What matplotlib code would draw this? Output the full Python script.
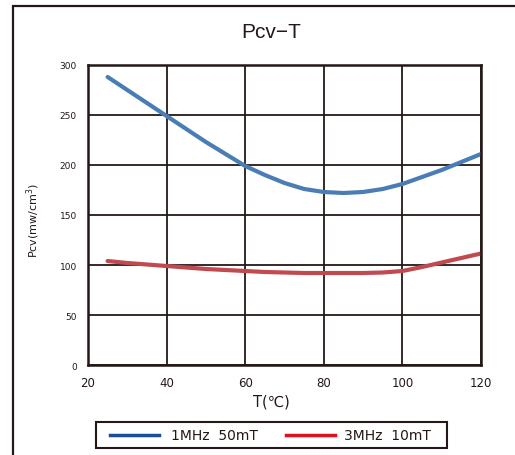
import matplotlib
matplotlib.use("Agg")
import matplotlib.pyplot as plt
from matplotlib.patches import Rectangle
from matplotlib.lines import Line2D

# values
temps = [25, 30, 35, 40, 45, 50, 55, 60, 65, 70, 75, 80, 85, 90, 95, 100, 105, 110, 115, 120]
pcv_1mhz = [288, 275, 262, 249, 236, 223, 211, 199, 190, 182, 176, 173, 172, 173, 176, 181, 188, 195, 203, 211]
pcv_3mhz = [104, 102, 100.5, 99, 97.5, 96, 95, 94, 93, 92.5, 92, 92, 92, 92, 92.5, 94, 98, 102.5, 107, 111.5]
series_names = ["1MHz  50mT", "3MHz  10mT"]
x_ticks = [20, 40, 60, 80, 100, 120]
y_ticks = [0, 50, 100, 150, 200, 250, 300]

W, H = 515, 456
fig = plt.figure(figsize=(W / 100, H / 100), dpi=100)
fig.patch.set_facecolor("white")

# outer frame (left + top visible, rest runs off the image)
fig.patches.append(Rectangle((13 / W, -0.2), 1.2, 1.2 - 7 / H, transform=fig.transFigure,
                             fill=False, edgecolor="#231815", linewidth=1.6))

ax = fig.add_axes([88 / W, 1 - 366 / H, 393 / W, 300 / H])
ax.plot(temps, pcv_1mhz, color="#4a7db5", linewidth=3.0, solid_capstyle="round", solid_joinstyle="round")
ax.plot(temps, pcv_3mhz, color="#c04a4f", linewidth=3.0, solid_capstyle="round", solid_joinstyle="round")

ax.set_xlim(20, 120)
ax.set_ylim(0, 300)
ax.set_xticks(x_ticks)
ax.set_yticks(y_ticks)
ax.grid(True, color="#231815", linewidth=1.3)
ax.set_axisbelow(True)
for s in ax.spines.values():
    s.set_linewidth(1.8)
    s.set_color("#231815")
ax.tick_params(axis="both", length=0, colors="#231815")
ax.tick_params(axis="x", labelsize=8.5, pad=8)
ax.tick_params(axis="y", labelsize=6.5, pad=8)

fig.text(271 / W, 1 - 33 / H, "Pcv\u2212T", ha="center", va="center", fontsize=15,
         family="Liberation Sans", color="#231815")
fig.text(271 / W, 1 - 402 / H, "T(\u2103)", ha="center", va="center", fontsize=10.5,
         color="#231815")
fig.text(33 / W, 1 - 220 / H, "Pcv(mw/cm$^3$)", ha="center", va="center", rotation=90,
         fontsize=8, color="#231815")

# legend box drawn by hand
fig.patches.append(Rectangle((96 / W, 1 - 449 / H), 351 / W, 26 / H, transform=fig.transFigure,
                             fill=False, edgecolor="#231815", linewidth=1.5))
ly = 1 - 436 / H
fig.lines.append(Line2D([110 / W, 159 / W], [ly, ly], transform=fig.transFigure,
                        color="#1d4c9a", linewidth=2.5))
fig.lines.append(Line2D([286 / W, 335 / W], [ly, ly], transform=fig.transFigure,
                        color="#e0101f", linewidth=2.5))
fig.text(171 / W, ly, series_names[0], ha="left", va="center", fontsize=10, color="#231815")
fig.text(344 / W, ly, series_names[1], ha="left", va="center", fontsize=10, color="#231815")

fig.savefig("out.png", dpi=100)
